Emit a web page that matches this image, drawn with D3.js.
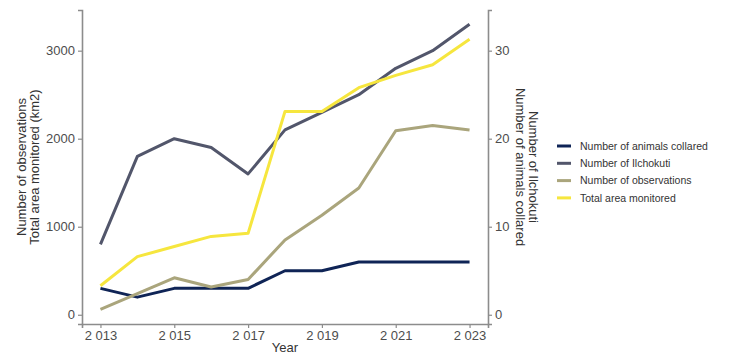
<!DOCTYPE html>
<html>
<head>
<meta charset="utf-8">
<script src="https://cdn.jsdelivr.net/npm/d3@7/dist/d3.min.js"></script>
<style>
  html, body { margin: 0; padding: 0; background: #fff; }
  svg { display: block; font-family: "Liberation Sans", Arial, sans-serif; }
</style>
</head>
<body>
<svg id="chart" width="729" height="356"></svg>
<script>
// Yearly monitoring figures
const years = [2013, 2014, 2015, 2016, 2017, 2018, 2019, 2020, 2021, 2022, 2023];
// Right axis series (counts)
const animalsCollared = [3, 2, 3, 3, 3, 5, 5, 6, 6, 6, 6];
const ilchokuti = [8, 18, 20, 19, 16, 21, 23, 25, 28, 30, 33];
// Left axis series
const observations = [60, 240, 420, 315, 400, 850, 1130, 1440, 2090, 2150, 2100];
const areaMonitored = [330, 660, 775, 890, 925, 2310, 2310, 2580, 2720, 2840, 3130];

const xTicks = [2013, 2015, 2017, 2019, 2021, 2023];
const leftTicks = [0, 1000, 2000, 3000];
const rightTicks = [0, 10, 20, 30];

const seriesNames = ["Number of animals collared", "Number of Ilchokuti", "Number of observations", "Total area monitored"];
const seriesColors = ["#0f2456", "#52566b", "#aaa57c", "#f6e63e"];

const svg = d3.select("#chart");
const panel = { left: 82, right: 488, top: 10, bottom: 324 };

const x = d3.scaleLinear().domain([2012.5, 2023.5]).range([panel.left, panel.right]);
const yLeft = d3.scaleLinear().domain([-105, 3462]).range([panel.bottom, panel.top]);
const yRight = d3.scaleLinear().domain([-1.05, 34.62]).range([panel.bottom, panel.top]);

const series = [
  { values: animalsCollared, y: yRight },
  { values: ilchokuti, y: yRight },
  { values: observations, y: yLeft },
  { values: areaMonitored, y: yLeft }
];

// Lines: yellow drawn on top, as in the legend order
series.forEach((s, i) => {
  const line = d3.line().x((d, j) => x(years[j])).y(d => s.y(d));
  svg.append("path")
    .datum(s.values)
    .attr("fill", "none")
    .attr("stroke", seriesColors[i])
    .attr("stroke-width", 3)
    .attr("stroke-linejoin", "round")
    .attr("d", line);
});

const axisColor = "#8c8c8c";
const labelColor = "#4d4d4d";

function styleAxis(g) {
  g.select(".domain").attr("stroke", axisColor).attr("stroke-width", 1.6);
  g.selectAll(".tick line").attr("stroke", axisColor).attr("stroke-width", 1.2);
  g.selectAll(".tick text").attr("fill", labelColor).style("font-size", "13px");
}

// Bottom axis
const gx = svg.append("g")
  .attr("transform", `translate(0,${panel.bottom})`)
  .call(d3.axisBottom(x).tickValues(xTicks).tickSizeOuter(0).tickSize(4).tickPadding(3)
    .tickFormat(d => String(d).slice(0, 1) + " " + String(d).slice(1)));
styleAxis(gx);

// Left axis
const gl = svg.append("g")
  .attr("transform", `translate(${panel.left},0)`)
  .call(d3.axisLeft(yLeft).tickValues(leftTicks).tickSizeOuter(0).tickSize(4).tickPadding(3)
    .tickFormat(d3.format("d")));
styleAxis(gl);

// Right axis
const gr = svg.append("g")
  .attr("transform", `translate(${panel.right},0)`)
  .call(d3.axisRight(yRight).tickValues(rightTicks).tickSizeOuter(0).tickSize(4).tickPadding(3)
    .tickFormat(d3.format("d")));
styleAxis(gr);

// Axis titles
const titleColor = "#333";
const midY = (panel.top + panel.bottom) / 2;

svg.append("text")
  .attr("x", (panel.left + panel.right) / 2)
  .attr("y", 352)
  .attr("text-anchor", "middle")
  .attr("fill", titleColor)
  .style("font-size", "13px")
  .text("Year");

const leftTitle = svg.append("text")
  .attr("transform", `translate(26,${midY}) rotate(-90)`)
  .attr("text-anchor", "middle")
  .attr("fill", titleColor)
  .style("font-size", "13px");
leftTitle.append("tspan").attr("x", 0).attr("dy", 0).text("Number of observations");
leftTitle.append("tspan").attr("x", 0).attr("dy", 13).text("Total area monitored (km2)");

const rightTitle = svg.append("text")
  .attr("transform", `translate(529,${midY}) rotate(90)`)
  .attr("text-anchor", "middle")
  .attr("fill", titleColor)
  .style("font-size", "13px");
rightTitle.append("tspan").attr("x", 0).attr("dy", 0).text("Number of Ilchokuti");
rightTitle.append("tspan").attr("x", 0).attr("dy", 13).text("Number of animals collared");

// Legend
const legend = svg.append("g").attr("transform", "translate(557,146)");
seriesNames.forEach((name, i) => {
  const row = legend.append("g").attr("transform", `translate(0,${i * 17.3})`);
  row.append("line")
    .attr("x1", 0).attr("x2", 14).attr("y1", 0).attr("y2", 0)
    .attr("stroke", seriesColors[i]).attr("stroke-width", 3);
  row.append("text")
    .attr("x", 23).attr("y", 0).attr("dy", "0.35em")
    .attr("fill", titleColor)
    .style("font-size", "10.5px")
    .text(name);
});
</script>
</body>
</html>
